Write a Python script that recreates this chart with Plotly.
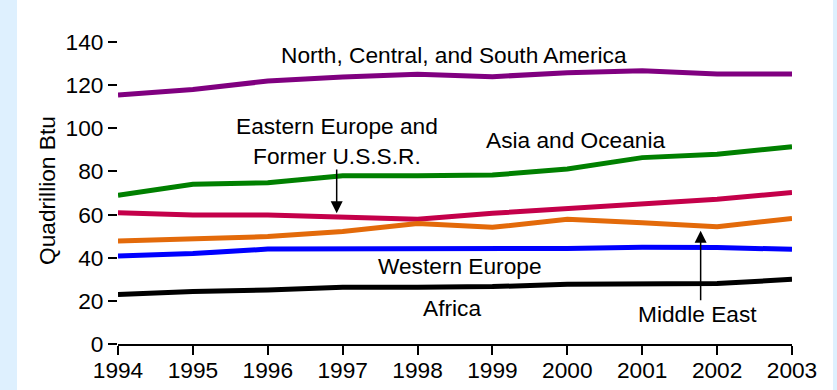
import plotly.graph_objects as go

years = [1994, 1995, 1996, 1997, 1998, 1999, 2000, 2001, 2002, 2003]
north_america = [115.4, 118.0, 121.9, 123.8, 125.0, 123.9, 125.8, 126.7, 125.2, 125.2]
asia_oceania = [69.0, 74.0, 74.8, 78.0, 78.0, 78.3, 81.1, 86.4, 88.0, 91.5]
eastern_europe = [60.9, 59.8, 59.8, 58.6, 57.8, 60.6, 62.9, 65.2, 67.1, 70.2]
middle_east = [47.7, 48.5, 49.8, 52.2, 55.9, 54.1, 57.8, 56.2, 54.4, 58.2]
western_europe = [40.8, 41.9, 44.0, 44.0, 43.9, 44.2, 44.3, 44.8, 44.7, 43.9]
africa = [23.0, 24.3, 25.0, 26.3, 26.3, 26.6, 27.7, 28.0, 28.0, 30.0]

y_ticks = [0, 20, 40, 60, 80, 100, 120, 140]

series = [
    ("North, Central, and South America", north_america, "#800080"),
    ("Asia and Oceania", asia_oceania, "#008000"),
    ("Eastern Europe and Former U.S.S.R.", eastern_europe, "#c4004a"),
    ("Middle East", middle_east, "#e36a0a"),
    ("Western Europe", western_europe, "#0000ff"),
    ("Africa", africa, "#000000"),
]

FONT = "Liberation Sans, Arial, sans-serif"
FS = 22.7
W, H = 837, 390
ML, MR, MT, MB = 118, 45, 42, 46
PW = W - ML - MR
PH = H - MT - MB

fig = go.Figure()
for name, vals, color in series:
    fig.add_trace(go.Scatter(x=years, y=vals, mode="lines", name=name,
                             line=dict(color=color, width=5), hoverinfo="skip"))

def px_x(p):
    return (p - ML) / PW

def px_y(p):
    return (H - MB - p) / PH

bg = "#def0fe"
shapes = [
    dict(type="rect", xref="paper", yref="paper", x0=px_x(0), x1=px_x(17),
         y0=px_y(H), y1=px_y(0), fillcolor=bg, line=dict(width=0), layer="below"),
    dict(type="rect", xref="paper", yref="paper", x0=px_x(833), x1=px_x(W),
         y0=px_y(H), y1=px_y(0), fillcolor=bg, line=dict(width=0), layer="below"),
]

tf = dict(family=FONT, size=FS, color="black")
common = dict(showarrow=False, font=tf, xanchor="center", yanchor="middle")
annotations = [
    dict(x=1998.49, y=134.0, text="North, Central, and South America", **common),
    dict(x=1996.92, y=94.1, text="Eastern Europe and<br>Former U.S.S.R.", **common),
    dict(x=2000.11, y=94.6, text="Asia and Oceania", **common),
    dict(x=1998.57, y=36.2, text="Western Europe", **common),
    dict(x=1998.46, y=16.7, text="Africa", **common),
    dict(x=2001.74, y=13.9, text="Middle East", **common),
    # arrows
    dict(x=1996.92, y=60.6, ax=1996.92, ay=81.6, axref="x", ayref="y", text="",
         showarrow=True, arrowhead=2, arrowsize=1.6, arrowwidth=1.5, arrowcolor="black"),
    dict(x=2001.78, y=52.5, ax=2001.78, ay=19.6, axref="x", ayref="y", text="",
         showarrow=True, arrowhead=2, arrowsize=1.6, arrowwidth=1.5, arrowcolor="black"),
    dict(x=px_x(47), y=px_y(191), xref="paper", yref="paper", text="Quadrillion Btu",
         textangle=-90, **common),
]

fig.update_layout(
    width=W, height=H,
    margin=dict(l=ML, r=MR, t=MT, b=MB, autoexpand=False),
    paper_bgcolor="white", plot_bgcolor="white",
    showlegend=False,
    shapes=shapes,
    annotations=annotations,
    font=dict(family=FONT, size=FS, color="black"),
    xaxis=dict(range=[1994, 2003], tickvals=years, ticktext=[str(y) for y in years],
               showgrid=False, zeroline=False, showline=True, linecolor="black", linewidth=2,
               ticks="outside", ticklen=9, tickwidth=1.5, tickcolor="black",
               automargin=False, ticklabelstandoff=-4,
               tickfont=dict(family=FONT, size=FS, color="black")),
    yaxis=dict(range=[0, 140], tickvals=y_ticks, showgrid=False, zeroline=False,
               showline=False, ticks="outside", ticklen=9, tickwidth=1.5, tickcolor="black",
               automargin=False,
               tickfont=dict(family=FONT, size=FS, color="black")),
)

fig.write_html("out.html", config={"displayModeBar": False},
               post_script="document.body.style.margin='0';document.body.style.overflow='hidden';")
